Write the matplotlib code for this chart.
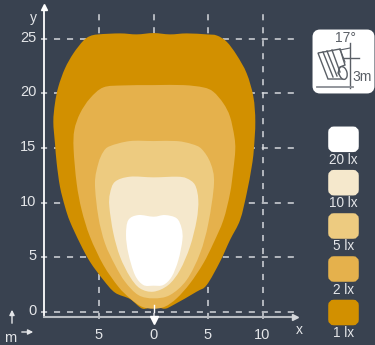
import matplotlib
matplotlib.use("Agg")
import matplotlib.pyplot as plt
from matplotlib.patches import FancyBboxPatch, PathPatch, Polygon, Ellipse
from matplotlib.path import Path

# isolux outlines, metres (x across, y along the road)
lux_1_x = [0, 1.51, 3.04, 4.88, 5.80, 6.71, 7.63, 8.55, 9.16, 9.34, 9.2, 9.01, 8.55, 7.94, 7.02, 6.10, 4.88, 3.96, 1.82, 1.0, 0, -1.0, -2.16, -3.53, -4.60, -5.83, -6.74, -7.66, -8.12, -8.58, -8.88, -9.04, -9.19, -9.04, -8.73, -8.12, -7.35, -6.44, -5.83, -5.06, -3.07, -1.54]
lux_1_y = [25.52, 25.40, 25.49, 25.40, 25.30, 24.73, 23.51, 21.83, 19.70, 17.41, 14.8, 13.29, 10.85, 8.41, 6.59, 4.60, 2.47, 1.86, 0.64, 0.30, 0.55, 0.30, 1.19, 1.77, 2.93, 4.60, 6.28, 8.26, 9.63, 11.46, 13.60, 15.43, 17.41, 19.09, 20.61, 22.29, 23.66, 24.82, 25.24, 25.40, 25.49, 25.40]
lux_2_x = [0, 2.74, 4.57, 5.49, 6.41, 7.02, 7.42, 7.5, 7.32, 7.02, 6.41, 5.49, 4.57, 3.35, 2.13, 1.05, 0, -1.09, -2.16, -3.23, -4.60, -5.83, -6.59, -7.05, -7.33, -7.26, -6.74, -5.83, -4.60, -2.77]
lux_2_y = [20.76, 20.76, 20.55, 20.15, 19.09, 17.87, 16.04, 14.8, 12.99, 10.85, 8.41, 6.28, 4.45, 2.62, 1.25, 0.49, 0.30, 0.49, 1.25, 2.32, 4.30, 6.89, 9.33, 11.77, 14.9, 16.65, 18.17, 19.54, 20.55, 20.73]
lux_5_x = [0, 2.13, 3.50, 4.42, 5.24, 5.55, 5.03, 4.27, 3.04, 1.51, 0, -1.39, -2.61, -3.53, -4.45, -5.06, -5.37, -5.06, -4.6, -3.99, -2.16]
lux_5_y = [15.64, 15.64, 15.37, 14.91, 13.6, 11.77, 8.11, 5.37, 2.93, 1.55, 1.25, 1.55, 2.77, 4.30, 6.28, 8.72, 11.77, 13.6, 14.66, 15.18, 15.64]
lux_10_x = [0, 2.13, 3.04, 3.81, 4.11, 3.96, 3.35, 2.43, 1.36, 0, -1.24, -2.16, -3.07, -3.68, -4.05, -3.99, -3.53, -2.16]
lux_10_y = [12.32, 12.38, 12.23, 11.62, 10.24, 8.41, 5.98, 3.84, 2.47, 1.86, 2.16, 3.23, 5.06, 7.20, 9.63, 10.85, 11.92, 12.38]
lux_20_x = [0, 1.05, 2.13, 2.58, 2.65, 2.28, 1.67, 0.90, 0, -0.93, -1.70, -2.31, -2.52, -2.31, -1.39]
lux_20_y = [8.72, 8.87, 8.57, 7.65, 6.59, 4.75, 3.23, 2.47, 2.41, 2.47, 3.38, 5.37, 7.04, 8.41, 8.87]

outlines = [(lux_1_x, lux_1_y), (lux_2_x, lux_2_y), (lux_5_x, lux_5_y), (lux_10_x, lux_10_y), (lux_20_x, lux_20_y)]
lux_labels = ["1 lx", "2 lx", "5 lx", "10 lx", "20 lx"]
lux_colors = ["#D29000", "#E5B14C", "#EDCB80", "#F5E8CC", "#FFFFFF"]
x_ticks = [-5, 0, 5, 10]
y_ticks = [0, 5, 10, 15, 20, 25]

BG = "#394250"
GRID = "#D5D8DC"
TXT = "#E4E6E9"
plt.rcParams["font.family"] = ["Liberation Sans", "DejaVu Sans"]


def smooth_outline(xs, ys):
    # closed bezier through the read points, Catmull-Rom style handles
    pts = list(zip(xs, ys))
    n = len(pts)
    verts = [pts[0]]
    codes = [Path.MOVETO]
    for i in range(n):
        p0, p1, p2, p3 = pts[i - 1], pts[i], pts[(i + 1) % n], pts[(i + 2) % n]
        verts.append((p1[0] + (p2[0] - p0[0]) / 6, p1[1] + (p2[1] - p0[1]) / 6))
        verts.append((p2[0] - (p3[0] - p1[0]) / 6, p2[1] - (p3[1] - p1[1]) / 6))
        verts.append(p2)
        codes += [Path.CURVE4] * 3
    return Path(verts, codes)


fig = plt.figure(figsize=(3.75, 3.45), dpi=100, facecolor=BG)

# data axes fill the figure, so 0,0 lands at the right pixel
ax = fig.add_axes([0, 0, 1, 1])
ax.set_facecolor(BG)
ax.set_xlim(-153.5 / 10.9, (375 - 153.5) / 10.9)
ax.set_ylim(-33 / 10.93, 312 / 10.93)
ax.axis("off")

for xt in x_ticks:
    ax.plot([xt, xt], [-0.65, 27.6], color=GRID, lw=1.1, dashes=(4, 4.5), zorder=1)
for yt in y_ticks:
    ax.plot([-10.3, 12.9], [yt, yt], color=GRID, lw=1.1, dashes=(4, 4.5), zorder=1)

for (xs, ys), col in zip(outlines, lux_colors):
    ax.add_patch(PathPatch(smooth_outline(xs, ys), fc=col, ec="none", lw=0, zorder=2))

# axes drawn by hand, they stop short of the frame
ax.plot([-10.05, -10.05], [-0.45, 27.8], color="white", lw=1.3, zorder=3)
ax.plot([-10.05, 12.9], [-0.45, -0.45], color="#B9BDC3", lw=1.5, zorder=3)
ax.plot([-10.05], [27.9], marker="^", ms=5, color="white", zorder=3)
ax.plot([13.0], [-0.45], marker=">", ms=4, color="#D5D8DC", zorder=3)
ax.plot([0, 0], [0.0, 0.6], color="white", lw=1, zorder=3)
ax.plot([0], [-0.75], marker="v", ms=6, color="white", zorder=4)

for xt in x_ticks:
    ax.text(xt, -2.1, str(abs(xt)), color=TXT, fontsize=10.5, ha="center", va="center")
for yt in y_ticks:
    ax.text(-10.75, yt + 0.1, str(yt), color=TXT, fontsize=10.5, ha="right", va="center")
ax.text(-11, 26.9, "y", color=TXT, fontsize=10, ha="center", va="center")
ax.text(13.4, -1.65, "x", color=TXT, fontsize=10, ha="center", va="center")

# overlay in pixels for the legend, icon and unit arrows
ov = fig.add_axes([0, 0, 1, 1])
ov.set_xlim(0, 375)
ov.set_ylim(345, 0)
ov.axis("off")
ov.patch.set_alpha(0)

swatch_tops = [300.5, 257, 214, 170.7, 127.3]
for top, col, lab in zip(swatch_tops, lux_colors, lux_labels):
    ov.add_patch(FancyBboxPatch((331, top + 2), 25, 20, boxstyle="round,pad=0,rounding_size=3", fc=col, ec=col, lw=4))
    ov.text(343.5, top + 32.5, lab, color=TXT, fontsize=9.8, ha="center", va="center")

ov.text(10, 338, "m", color=TXT, fontsize=10.5, ha="center", va="center")
ov.annotate("", xy=(12, 307), xytext=(12, 326), arrowprops=dict(arrowstyle="-|>,head_width=0.15,head_length=0.3", color=TXT, lw=1))
ov.annotate("", xy=(36, 332), xytext=(19, 332), arrowprops=dict(arrowstyle="-|>,head_width=0.15,head_length=0.3", color=TXT, lw=1))

# lamp icon
ICON = "#5A5F66"
ov.add_patch(FancyBboxPatch((316, 33), 55, 57, boxstyle="round,pad=0,rounding_size=4", fc="white", ec="white", lw=5))
ov.add_patch(Polygon([(318, 53), (340, 49), (345, 65), (340, 67), (338, 73), (343, 79), (328, 79)], closed=True, fc="white", ec=ICON, lw=1))
ov.plot([323, 333], [52, 77], color=ICON, lw=1)
ov.plot([327, 337], [51, 76], color=ICON, lw=1)
ov.plot([332, 340], [50, 72], color=ICON, lw=1)
ov.add_patch(Ellipse((343, 73), 8, 13, angle=-15, fc="white", ec=ICON, lw=1))
ov.plot([350, 350], [43, 88], color=ICON, lw=1)
ov.plot([343, 359], [58, 58], color=ICON, lw=1)
ov.plot([340, 345], [49, 62], color=ICON, lw=0.8)
ov.plot([340, 350], [50, 48], color=ICON, lw=0.8)
ov.plot([317, 353], [87, 87], color="#8A8E94", lw=1.3)
ov.text(345, 38, "17°", color=ICON, fontsize=10, ha="center", va="center")
ov.text(362, 77, "3m", color=ICON, fontsize=10, ha="center", va="center")

fig.savefig("out.png", dpi=100, facecolor=BG)
